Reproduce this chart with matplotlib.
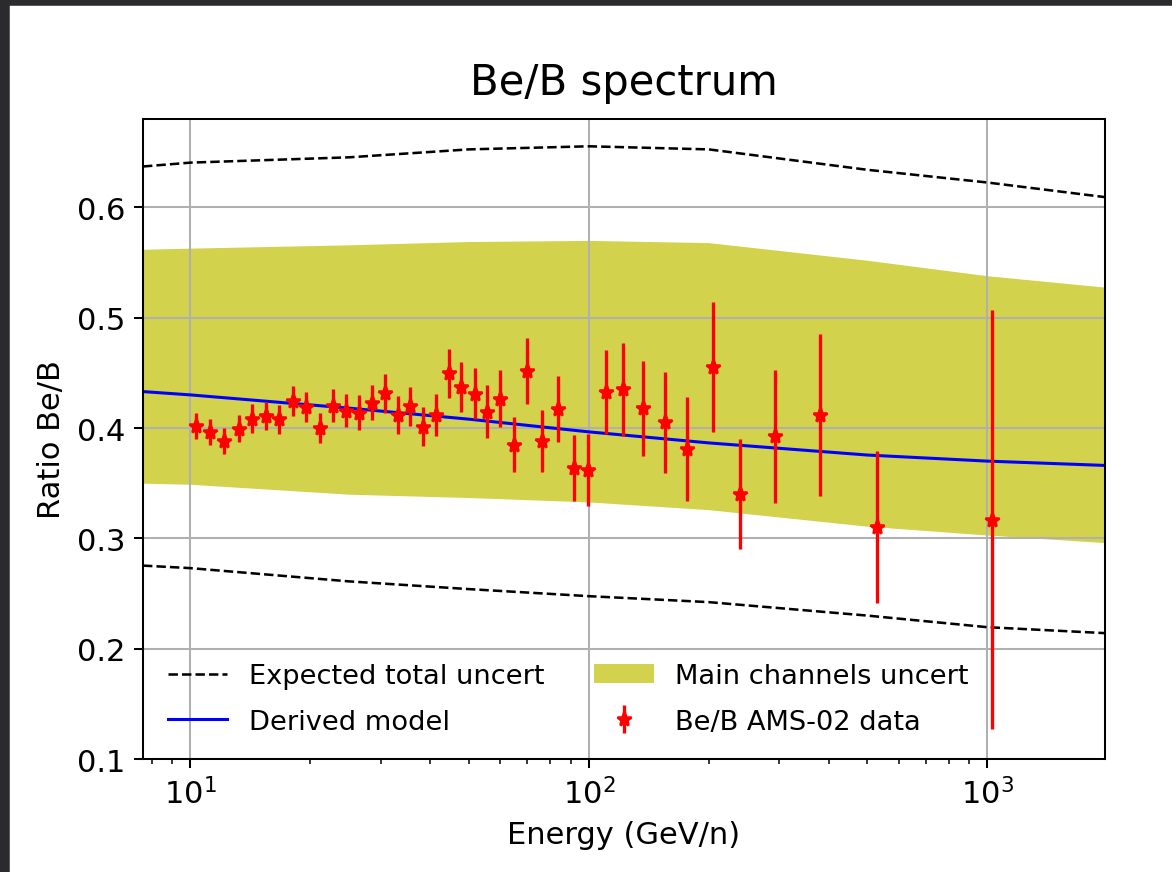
import matplotlib
matplotlib.use("Agg")
import matplotlib.pyplot as plt
from matplotlib.patches import Rectangle
import numpy as np

# Be/B data points (AMS-02): kinetic energy per nucleon, ratio, error
energy = [10.3, 11.2, 12.15, 13.2, 14.3, 15.5, 16.7, 18.1, 19.5, 21.2,
          22.8, 24.6, 26.5, 28.6, 30.7, 33.1, 35.6, 38.3, 41.3, 44.5,
          47.7, 51.7, 55.5, 59.9, 64.9, 70.0, 76.4, 83.6, 91.6, 99.6,
          110.5, 122, 137, 155, 176.6, 204.5, 239.7, 294, 380, 530, 1027]
ratio = [0.402, 0.3965, 0.3883, 0.3995, 0.4086, 0.411, 0.408, 0.4246, 0.419, 0.400,
         0.420, 0.4155, 0.414, 0.423, 0.4315, 0.4119, 0.4195, 0.4013, 0.4119, 0.4494,
         0.4372, 0.4312, 0.4146, 0.4267, 0.3847, 0.4517, 0.388, 0.417, 0.3636, 0.362,
         0.433, 0.4351, 0.418, 0.405, 0.3808, 0.4553, 0.340, 0.3923, 0.4116, 0.3104, 0.3168]
ratio_err = [0.012, 0.012, 0.0115, 0.012, 0.013, 0.0125, 0.013, 0.0136, 0.0136, 0.0136,
             0.015, 0.015, 0.016, 0.016, 0.0178, 0.017, 0.018, 0.018, 0.019, 0.022,
             0.0228, 0.023, 0.024, 0.026, 0.025, 0.030, 0.028, 0.030, 0.030, 0.0326,
             0.038, 0.042, 0.043, 0.046, 0.047, 0.0585, 0.050, 0.060, 0.0735, 0.0687, 0.19]

# model and uncertainty curves on a coarse energy grid
e_grid = [7.6, 10, 25, 50, 100, 200, 500, 1000, 2000]
model = [0.433, 0.430, 0.418, 0.408, 0.3965, 0.3865, 0.3755, 0.370, 0.366]
band_hi = [0.562, 0.563, 0.566, 0.569, 0.570, 0.568, 0.552, 0.538, 0.5275]
band_lo = [0.350, 0.349, 0.340, 0.337, 0.333, 0.326, 0.311, 0.303, 0.296]
total_hi = [0.637, 0.6405, 0.6453, 0.6525, 0.6553, 0.6525, 0.634, 0.6225, 0.609]
total_lo = [0.2753, 0.273, 0.261, 0.254, 0.2476, 0.2422, 0.230, 0.2195, 0.214]

fig = plt.figure(figsize=(6.4, 873 / 183.28), dpi=183.28)
# dark frame strips along the left and top edges
fig.patches.append(Rectangle((0, 0), 8 / 1173, 1, transform=fig.transFigure,
                             color="#2b2b2d", zorder=-10))
fig.patches.append(Rectangle((0, 1 - 5 / 873), 1, 5 / 873, transform=fig.transFigure,
                             color="#2b2b2d", zorder=-10))

ax = fig.add_axes([0.1219, 0.1294, 0.8201, 0.7331])

ax.plot(e_grid, total_hi, "k--", lw=1.0, label="Expected total uncert")
ax.plot(e_grid, total_lo, "k--", lw=1.0)
ax.fill_between(e_grid, band_lo, band_hi, color="y", alpha=0.7, lw=0,
                label="Main channels uncert")
ax.plot(e_grid, model, color="b", lw=1.2, label="Derived model")
ax.errorbar(energy, ratio, yerr=ratio_err, fmt="*", color="red", ms=6,
            elinewidth=1.3, label="Be/B AMS-02 data")

ax.set_xscale("log")
ax.set_xlim(7.6, 1975)
ax.set_ylim(0.1, 0.68)
ax.set_yticks([0.1, 0.2, 0.3, 0.4, 0.5, 0.6])
ax.grid(True)
ax.tick_params(labelsize=12)

ax.set_title("Be/B spectrum", fontsize=16.4, pad=10)
ax.set_xlabel("Energy (GeV/n)", fontsize=12)
ax.set_ylabel("Ratio Be/B", fontsize=12)

h, l = ax.get_legend_handles_labels()
order = [0, 2, 1, 3]
ax.legend([h[i] for i in order], [l[i] for i in order], ncol=2,
          loc="lower left", frameon=False, fontsize=10.7, handlelength=2.2,
          labelspacing=0.7, columnspacing=1.8)

fig.savefig("out.png", dpi=183.28)
